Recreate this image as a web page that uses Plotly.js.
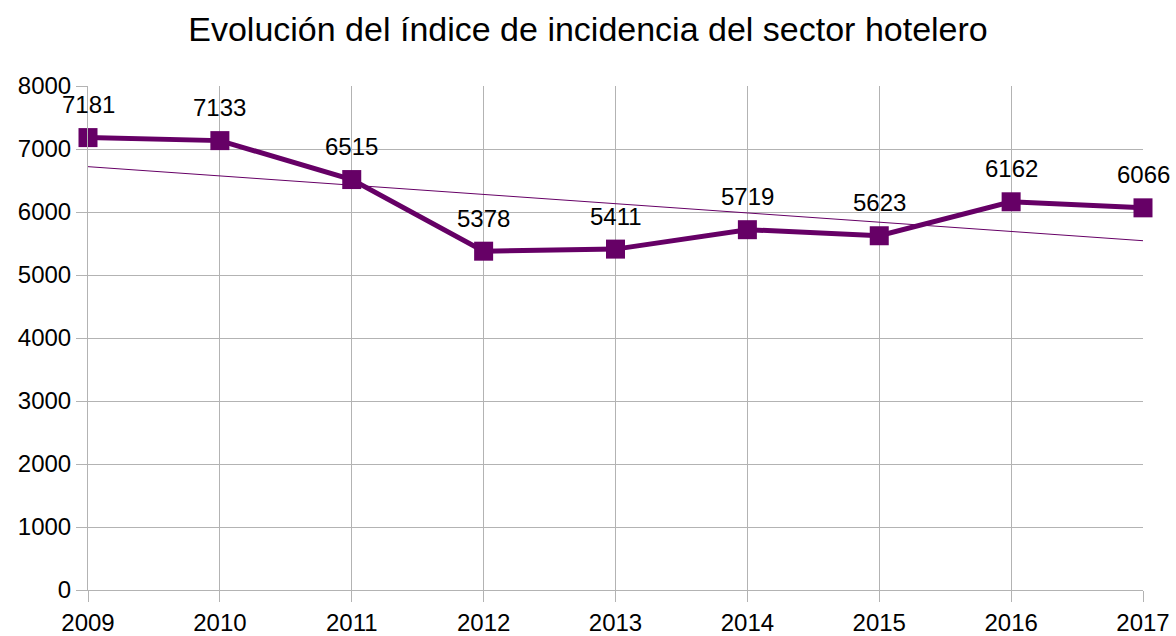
<!DOCTYPE html>
<html>
<head>
<meta charset="utf-8">
<script src="https://cdn.plot.ly/plotly-3.0.1.min.js"></script>
<style>html,body{margin:0;padding:0;background:#fff;}#chart{width:1176px;height:636px;}</style>
</head>
<body>
<div id="chart"></div>
<script>
const years = [2009, 2010, 2011, 2012, 2013, 2014, 2015, 2016, 2017];
const values = [7181, 7133, 6515, 5378, 5411, 5719, 5623, 6162, 6066];
const yTicks = [0, 1000, 2000, 3000, 4000, 5000, 6000, 7000, 8000];

// linear trend line (least squares) derived from the data
const n = years.length;
const mx = years.reduce((a, b) => a + b, 0) / n;
const my = values.reduce((a, b) => a + b, 0) / n;
let sxy = 0, sxx = 0;
for (let i = 0; i < n; i++) { sxy += (years[i] - mx) * (values[i] - my); sxx += (years[i] - mx) ** 2; }
const slope = sxy / sxx;
const trendX = [years[0], years[n - 1]];
const trendY = trendX.map(x => my + slope * (x - mx));

const color = '#660066';
const font = 'Liberation Sans, Arial, sans-serif';

const traces = [
  {
    x: trendX, y: trendY, mode: 'lines', type: 'scatter',
    line: {color: color, width: 1}, hoverinfo: 'skip', showlegend: false
  },
  {
    x: years, y: values, mode: 'lines+markers', type: 'scatter',
    line: {color: color, width: 5},
    marker: {symbol: 'square', size: 19, color: color},
    cliponaxis: false, showlegend: false
  }
];

const annotations = years.map((yr, i) => ({
  x: yr, y: values[i], text: String(values[i]), showarrow: false,
  xanchor: 'center', yanchor: 'middle', yshift: 33,
  font: {family: font, size: 24, color: '#000'}
}));

const layout = {
  width: 1176, height: 636,
  margin: {l: 88, r: 33, t: 86, b: 46},
  paper_bgcolor: '#fff', plot_bgcolor: '#fff',
  title: {text: 'Evolución del índice de incidencia del sector hotelero', font: {family: font, size: 34, color: '#000'}, x: 0.5, xanchor: 'center', y: 0.955, yanchor: 'middle'},
  annotations: annotations,
  xaxis: {
    range: [2009, 2017], tickvals: years, ticktext: years.map(String),
    showgrid: true, gridcolor: '#b3b3b3', gridwidth: 1,
    showline: true, linecolor: '#b3b3b3', linewidth: 1,
    ticks: 'outside', ticklen: 11, tickcolor: '#b3b3b3',
    tickfont: {family: font, size: 24, color: '#000'}, zeroline: false
  },
  yaxis: {
    range: [0, 8000], tickvals: yTicks, ticktext: yTicks.map(String),
    showgrid: true, gridcolor: '#b3b3b3', gridwidth: 1,
    showline: true, linecolor: '#b3b3b3', linewidth: 1,
    ticks: 'outside', ticklen: 11, tickcolor: '#b3b3b3',
    tickfont: {family: font, size: 24, color: '#000'}, zeroline: false
  },
  font: {family: font}
};

Plotly.newPlot('chart', traces, layout, {displayModeBar: false, staticPlot: true});
</script>
</body>
</html>
